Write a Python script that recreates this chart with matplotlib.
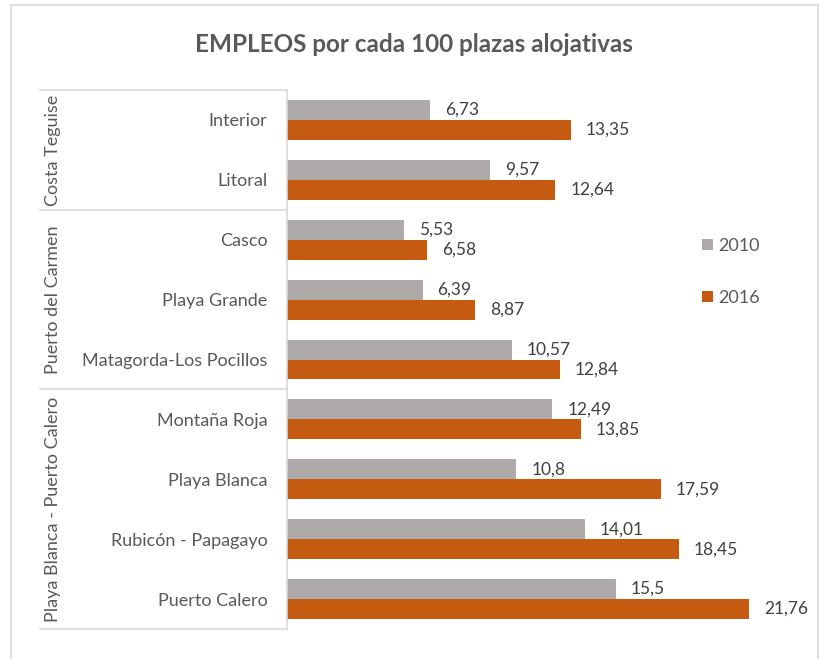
import matplotlib.pyplot as plt
from matplotlib.lines import Line2D
from matplotlib.transforms import blended_transform_factory
import numpy as np

plt.rcParams["font.family"] = ["Lato", "DejaVu Sans"]

categories = ["Interior", "Litoral", "Casco", "Playa Grande", "Matagorda-Los Pocillos",
              "Montaña Roja", "Playa Blanca", "Rubicón - Papagayo", "Puerto Calero"]
groups = ["Costa Teguise", "Puerto del Carmen", "Playa Blanca - Puerto Calero"]
group_sizes = [2, 3, 4]
v2010 = [6.73, 9.57, 5.53, 6.39, 10.57, 12.49, 10.8, 14.01, 15.5]
v2016 = [13.35, 12.64, 6.58, 8.87, 12.84, 13.85, 17.59, 18.45, 21.76]

GRAY = "#AEAAAA"
ORANGE = "#C55A11"
TEXT = "#595959"
LINE = "#D9D9D9"

W, H = 824, 659
fig = plt.figure(figsize=(W / 100, H / 100), dpi=100)

# plot area in pixels: x 287..818, y 90..629
ax = fig.add_axes([287 / W, 1 - 629 / H, 531 / W, 539 / H])

y = np.arange(len(categories))
bh = 1 / 3
b1 = ax.barh(y - bh / 2, v2010, height=bh, color=GRAY, label="2010")
b2 = ax.barh(y + bh / 2, v2016, height=bh, color=ORANGE, label="2016")

fmt = lambda v: f"{v:g}".replace(".", ",")
for bars, vals in ((b1, v2010), (b2, v2016)):
    for rect, v in zip(bars, vals):
        ax.text(v + 0.7, rect.get_y() + rect.get_height() / 2, fmt(v),
                va="center", ha="left", fontsize=12.5, color="#404040")

ax.set_xlim(0, 25)
ax.set_ylim(len(categories) - 0.5, -0.5)
ax.set_yticks(y)
ax.set_yticklabels(categories, fontsize=13, color=TEXT)
ax.tick_params(axis="y", length=0, pad=14)
ax.set_xticks([])
for s in ("top", "right", "bottom"):
    ax.spines[s].set_visible(False)
ax.spines["left"].set_color(LINE)
ax.spines["left"].set_linewidth(1.2)

# group separators and labels
tr = blended_transform_factory(ax.transAxes, ax.transData)
x_left = (40 - 287) / 531
start = -0.5
for g, n in zip(groups, group_sizes):
    ax.plot([x_left, 0], [start, start], color=LINE, lw=1.2, transform=tr, clip_on=False)
    mid = start + n / 2
    ax.text((53 - 287) / 531, mid, g, rotation=90, ha="center", va="center",
            fontsize=13, color=TEXT, transform=tr)
    start += n
ax.plot([x_left, 0], [start, start], color=LINE, lw=1.2, transform=tr, clip_on=False)

ax.legend(loc="center left", bbox_to_anchor=((686 - 287) / 531, 1 - (272 - 90) / 539),
          frameon=False, fontsize=13, labelcolor=TEXT, labelspacing=2.0,
          handlelength=0.6, handleheight=0.6, handletextpad=0.3)

fig.text(414 / W, 1 - 45 / H, "EMPLEOS por cada 100 plazas alojativas", ha="center",
         va="center", fontsize=17.5, fontweight="bold", color=TEXT)

# chart border
for xs, ys in (([11, 818], [5, 5]), ([11, 11], [5, H]), ([818, 818], [5, H])):
    fig.add_artist(Line2D([x / W for x in xs], [1 - v / H for v in ys], color=LINE, lw=1.2))

fig.savefig("out.png", dpi=100)
